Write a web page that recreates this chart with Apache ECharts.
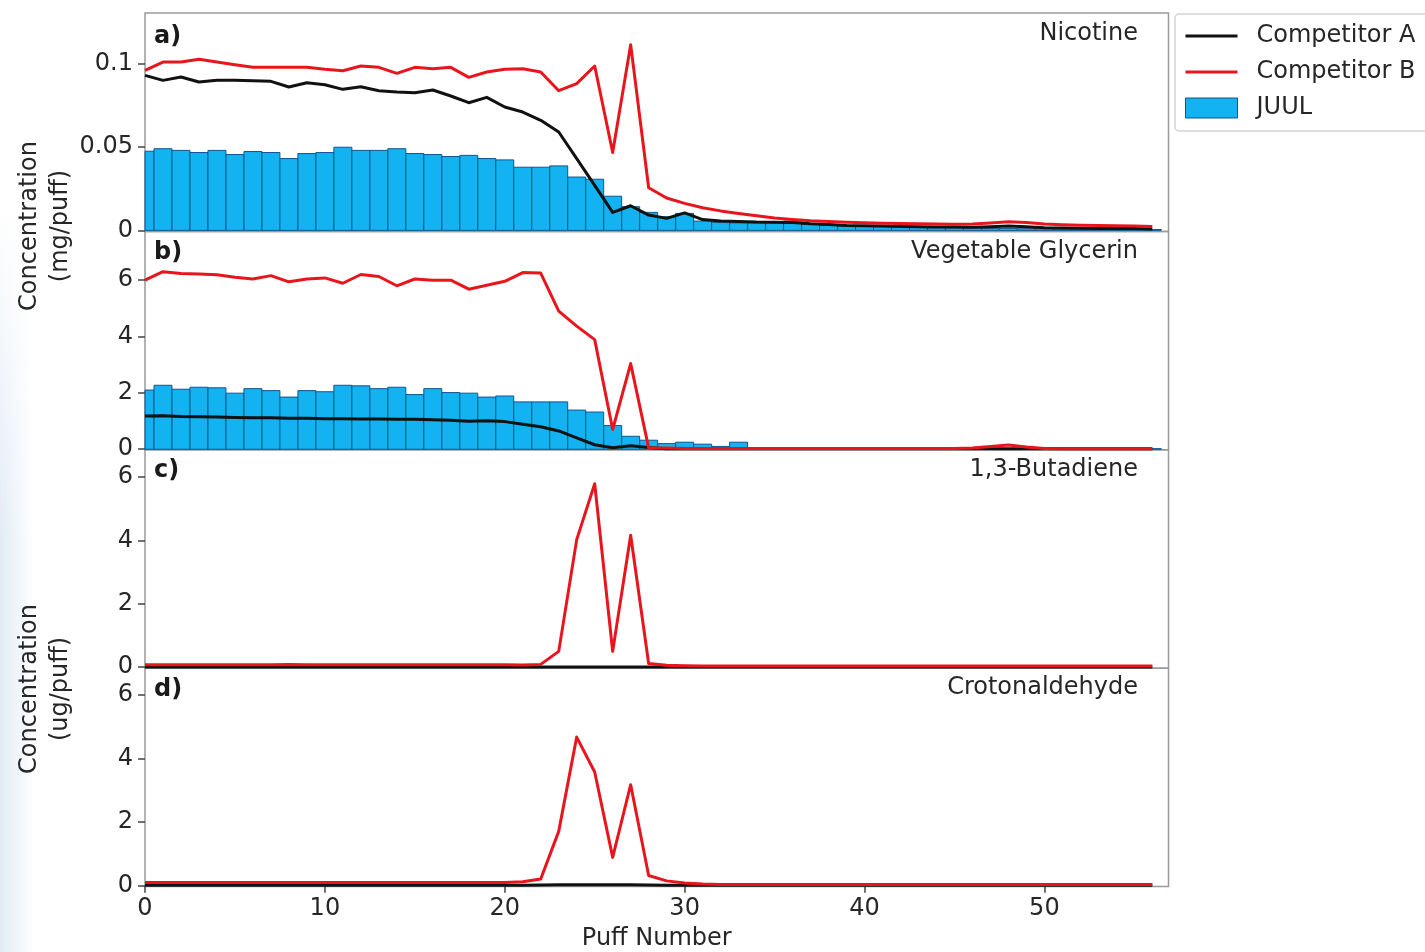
<!DOCTYPE html>
<html>
<head>
<meta charset="utf-8">
<title>Puff-by-puff concentrations</title>
<script src="https://cdn.jsdelivr.net/npm/echarts@6/dist/echarts.min.js"></script>
<style>
  html, body { margin: 0; padding: 0; background: #ffffff; }
  #wrap { position: relative; width: 1425px; height: 952px; overflow: hidden; }
  #tint { position: absolute; left: 0; top: 200px; width: 34px; height: 752px;
          background: linear-gradient(to right, rgba(222,233,245,0.9), rgba(255,255,255,0));
          -webkit-mask-image: linear-gradient(to bottom, transparent, black 45%);
          mask-image: linear-gradient(to bottom, transparent, black 45%); }
  /* canvas runs a little past the right edge so the legend frame is cut off there */
  #chart { position: absolute; left: 0; top: 0; width: 1460px; height: 952px; }
</style>
</head>
<body>
<div id="wrap">
  <div id="tint"></div>
  <div id="chart"></div>
</div>
<script>
// Puff numbers shared by every panel
const puffs = [0,1,2,3,4,5,6,7,8,9,10,11,12,13,14,15,16,17,18,19,20,21,22,23,24,25,26,27,28,
  29,30,31,32,33,34,35,36,37,38,39,40,41,42,43,44,45,46,47,48,49,50,51,52,53,54,55,56];

// a) Nicotine (mg/puff)
const nicotineA = [0.093,0.090,0.092,0.089,0.090,0.090,0.0898,0.0894,0.086,0.0886,0.0874,0.0846,0.0862,0.0838,
  0.083,0.0826,0.0842,0.0806,0.0766,0.0798,0.074,0.071,0.066,0.059,0.043,0.027,0.0108,0.0148,0.0092,0.0072,
  0.0105,0.0065,0.0056,0.0054,0.005,0.0049,0.0048,0.004,0.0035,0.003,0.0028,0.0026,0.0024,0.0022,0.002,0.002,
  0.0019,0.0022,0.0026,0.0022,0.0016,0.0014,0.0013,0.0012,0.0012,0.0011,0.0008];
const nicotineB = [0.096,0.101,0.101,0.1026,0.101,0.0994,0.0978,0.0978,0.0978,0.0978,0.0966,0.0958,0.0986,0.0978,
  0.0942,0.0978,0.097,0.0978,0.0918,0.095,0.0966,0.097,0.095,0.0838,0.088,0.0986,0.0467,0.1114,0.0256,0.0194,
  0.0162,0.0136,0.0117,0.0102,0.0088,0.0075,0.0066,0.0058,0.0053,0.0049,0.0046,0.0043,0.0041,0.004,0.0038,0.0037,
  0.0038,0.0045,0.0052,0.0048,0.0038,0.0034,0.0031,0.003,0.0028,0.0026,0.0024];
const nicotineJuul = [0.0475,0.049,0.048,0.0467,0.048,0.0455,0.0473,0.0467,0.0431,0.0461,0.0467,0.0499,0.048,0.048,
  0.049,0.0461,0.0455,0.0443,0.045,0.0431,0.0423,0.0379,0.0379,0.0387,0.032,0.0307,0.0205,0.0142,0.0108,0.0082,
  0.0102,0.0056,0.0048,0.0045,0.0044,0.0045,0.0056,0.0036,0.003,0.0026,0.0024,0.0022,0.002,0.0018,0.0016,0.0015,
  0.0014,0.0012,0.0012,0.001,0.001,0.0009,0.0008,0.0008,0.0007,0.0006,0.0005];

// b) Vegetable Glycerin (mg/puff)
const glycerinA = [1.18,1.19,1.16,1.15,1.14,1.13,1.12,1.12,1.1,1.1,1.08,1.08,1.07,1.07,1.06,1.06,1.05,1.03,0.99,1.01,
  0.98,0.89,0.8,0.65,0.4,0.16,0.05,0.12,0.06,0.02,0.02,0.02,0.02,0.02,0.02,0.02,0.02,0.02,0.02,0.02,0.02,0.02,
  0.02,0.02,0.02,0.02,0.02,0.02,0.02,0.02,0.02,0.02,0.02,0.02,0.02,0.02,0.02];
const glycerinB = [6.0,6.3,6.24,6.22,6.19,6.1,6.04,6.16,5.94,6.04,6.08,5.89,6.2,6.13,5.8,6.04,6.0,6.0,5.68,5.82,
  5.96,6.27,6.25,4.9,4.37,3.89,0.7,3.04,0.05,0.04,0.03,0.03,0.03,0.03,0.03,0.03,0.03,0.03,0.03,0.03,0.03,0.03,
  0.03,0.03,0.03,0.03,0.04,0.1,0.15,0.08,0.03,0.02,0.02,0.02,0.02,0.02,0.02];
const glycerinJuul = [2.1,2.27,2.13,2.2,2.18,1.99,2.15,2.08,1.85,2.08,2.04,2.27,2.25,2.15,2.2,1.94,2.15,2.01,1.99,1.85,
  1.89,1.68,1.68,1.68,1.39,1.32,0.84,0.46,0.32,0.2,0.25,0.18,0.1,0.25,0.06,0.05,0.04,0.03,0.03,0.03,0.02,0.02,
  0.02,0.02,0.02,0.02,0.02,0.02,0.02,0.02,0.02,0.02,0.02,0.02,0.02,0.02,0.02];

// c) 1,3-Butadiene (ug/puff)
const butadieneA = [0.01,0.01,0.01,0.01,0.01,0.01,0.01,0.01,0.01,0.01,0.01,0.01,0.01,0.01,0.01,0.01,0.01,0.01,0.01,0.01,
  0.01,0.01,0.01,0.01,0.01,0.01,0.01,0.01,0.01,0.01,0.01,0.01,0.01,0.01,0.01,0.01,0.01,0.01,0.01,0.01,0.01,0.01,
  0.01,0.01,0.01,0.01,0.01,0.01,0.01,0.01,0.01,0.01,0.01,0.01,0.01,0.01,0.01];
const butadieneB = [0.08,0.08,0.08,0.08,0.08,0.08,0.08,0.08,0.09,0.08,0.08,0.08,0.08,0.08,0.08,0.08,0.08,0.08,0.08,0.08,
  0.08,0.07,0.09,0.5,4.02,5.78,0.5,4.16,0.12,0.06,0.05,0.04,0.04,0.04,0.04,0.04,0.04,0.04,0.04,0.04,0.04,0.04,
  0.04,0.04,0.04,0.04,0.04,0.04,0.04,0.04,0.04,0.04,0.04,0.04,0.04,0.04,0.04];

// d) Crotonaldehyde (ug/puff)
const crotonA = [0.01,0.01,0.01,0.01,0.01,0.01,0.01,0.01,0.01,0.01,0.01,0.01,0.01,0.01,0.01,0.01,0.01,0.01,0.01,0.01,
  0.01,0.01,0.02,0.03,0.03,0.03,0.03,0.03,0.02,0.01,0.01,0.01,0.01,0.01,0.01,0.01,0.01,0.01,0.01,0.01,0.01,0.01,
  0.01,0.01,0.01,0.01,0.01,0.01,0.01,0.01,0.01,0.01,0.01,0.01,0.01,0.01,0.01];
const crotonB = [0.1,0.1,0.1,0.1,0.1,0.1,0.1,0.1,0.1,0.1,0.1,0.1,0.1,0.1,0.1,0.1,0.1,0.1,0.1,0.1,
  0.1,0.12,0.21,1.71,4.68,3.58,0.89,3.18,0.32,0.15,0.08,0.05,0.04,0.04,0.04,0.04,0.04,0.04,0.04,0.04,0.04,0.04,
  0.04,0.04,0.04,0.04,0.04,0.04,0.04,0.04,0.04,0.04,0.04,0.04,0.04,0.04,0.04];

// Axis tick values and labels
const xTicks = [0, 10, 20, 30, 40, 50];
const nicotineTicks = [0, 0.05, 0.1];
const nicotineTickLabels = ['0', '0.05', '0.1'];
const ugTicks = [0, 2, 4, 6];

const panelTitles = ['Nicotine', 'Vegetable Glycerin', '1,3-Butadiene', 'Crotonaldehyde'];
const panelTags = ['a)', 'b)', 'c)', 'd)'];
const seriesNames = ['Competitor A', 'Competitor B', 'JUUL'];

const FONT = 'DejaVu Sans';
const TEXT = '#262626';
const RED = '#e8161c';
const BLACK = '#111111';
const BLUE = '#12b3f0';
const BLUE_EDGE = '#11558f';
// thin horizontal bar used as the legend swatch for the line series
const LINE_ICON = 'path://M0,0h52v3h-52z';

const chart = echarts.init(document.getElementById('chart'), null, { renderer: 'canvas' });

// panel layout (canvas is 1460 wide; plot area ends at x = 1168.5)
const CANVAS_W = 1460;
const LEFT = 145, RIGHT = CANVAS_W - 1168.5, TOP = 13, PANEL_H = 218.4;
const TITLE_RIGHT = CANVAS_W - 1138;
const grids = [0, 1, 2, 3].map(i => ({
  left: LEFT, right: RIGHT, top: TOP + i * PANEL_H, height: PANEL_H,
  show: true, borderColor: '#9a9a9a', borderWidth: 1.5, backgroundColor: 'transparent'
}));

const xAxes = [0, 1, 2, 3].map(i => ({
  type: 'value', gridIndex: i, min: 0, max: 56.9,
  axisLine: { show: false },
  splitLine: { show: false },
  axisTick: { show: i === 3, customValues: xTicks, length: 7, inside: false, lineStyle: { color: '#444', width: 1.5 } },
  minorTick: { show: false },
  axisLabel: { show: i === 3, customValues: xTicks, margin: 10, fontFamily: FONT, fontSize: 24, color: TEXT },
  name: i === 3 ? 'Puff Number' : '',
  nameLocation: 'middle', nameGap: 40,
  nameTextStyle: { fontFamily: FONT, fontSize: 24, color: TEXT }
}));

function yAxis(i, min, max, ticks, labels) {
  return {
    type: 'value', gridIndex: i, min: min, max: max,
    axisLine: { show: false },
    splitLine: { show: false },
    axisTick: { show: true, customValues: ticks, length: 7, lineStyle: { color: '#444', width: 1.5 } },
    axisLabel: {
      show: true, customValues: ticks, margin: 12, fontFamily: FONT, fontSize: 24, color: TEXT,
      formatter: labels ? (v) => labels[ticks.indexOf(v)] ?? String(v) : (v) => String(v)
    }
  };
}

const yAxes = [
  yAxis(0, -0.0006, 0.1304, nicotineTicks, nicotineTickLabels),
  yAxis(1, -0.02, 7.73, ugTicks),
  yAxis(2, -0.03, 6.85, ugTicks),
  yAxis(3, -0.03, 6.85, ugTicks)
];

function pairs(ys) { return puffs.map((x, k) => [x, ys[k]]); }

// Unit-wide bars centred on each puff, drawn through the axis scales
function barSeries(i, ys) {
  return {
    name: 'JUUL', type: 'custom', xAxisIndex: i, yAxisIndex: i, z: 1,
    color: BLUE,
    itemStyle: { color: BLUE, borderColor: BLUE_EDGE, borderWidth: 1 },
    data: pairs(ys),
    renderItem: function (params, api) {
      const x = api.value(0), y = api.value(1);
      const p0 = api.coord([x - 0.5, 0]);
      const p1 = api.coord([x + 0.5, y]);
      const rect = echarts.graphic.clipRectByRect(
        { x: p0[0], y: p1[1], width: p1[0] - p0[0], height: p0[1] - p1[1] },
        { x: params.coordSys.x, y: params.coordSys.y, width: params.coordSys.width, height: params.coordSys.height }
      );
      if (!rect) return null;
      return { type: 'rect', shape: rect,
               style: { fill: BLUE, stroke: BLUE_EDGE, lineWidth: 1 } };
    }
  };
}

function lineSeries(i, name, ys, color, z) {
  return {
    name: name, type: 'line', xAxisIndex: i, yAxisIndex: i, z: z,
    data: pairs(ys), symbol: 'none', clip: true, animation: false,
    color: color,
    lineStyle: { color: color, width: 3, join: 'round' }
  };
}

const series = [
  barSeries(0, nicotineJuul),
  lineSeries(0, 'Competitor A', nicotineA, BLACK, 2),
  lineSeries(0, 'Competitor B', nicotineB, RED, 3),
  barSeries(1, glycerinJuul),
  lineSeries(1, 'Competitor A', glycerinA, BLACK, 2),
  lineSeries(1, 'Competitor B', glycerinB, RED, 3),
  lineSeries(2, 'Competitor A', butadieneA, BLACK, 2),
  lineSeries(2, 'Competitor B', butadieneB, RED, 3),
  lineSeries(3, 'Competitor A', crotonA, BLACK, 2),
  lineSeries(3, 'Competitor B', crotonB, RED, 3)
];

const titleTops = [20, 238, 456, 674];
const tagTops = [23, 239, 457, 676];
const titles = [];
panelTitles.forEach((t, i) => {
  titles.push({ text: t, right: TITLE_RIGHT, top: titleTops[i], padding: 0,
    textStyle: { fontFamily: FONT, fontSize: 24, fontWeight: 'normal', color: TEXT, lineHeight: 28 } });
  titles.push({ text: panelTags[i], left: 154, top: tagTops[i], padding: 0,
    textStyle: { fontFamily: FONT, fontSize: 24, fontWeight: 'bold', color: '#1a1a1a', lineHeight: 28 } });
});

chart.setOption({
  animation: false,
  textStyle: { fontFamily: FONT },
  title: titles,
  grid: grids,
  xAxis: xAxes,
  yAxis: yAxes,
  legend: {
    orient: 'vertical', left: 1175, top: 14,
    padding: [10, 30, 11, 10],
    itemWidth: 52, itemHeight: 20, itemGap: 12,
    borderColor: '#d4d4d4', borderWidth: 1.5, borderRadius: 4, backgroundColor: '#ffffff',
    selectedMode: false,
    textStyle: { fontFamily: FONT, fontSize: 24, color: TEXT, lineHeight: 20, padding: [0, 0, 0, 14] },
    data: [
      { name: seriesNames[0], icon: LINE_ICON, itemStyle: { color: BLACK, borderWidth: 0 } },
      { name: seriesNames[1], icon: LINE_ICON, itemStyle: { color: RED, borderWidth: 0 } },
      { name: seriesNames[2], icon: 'rect', itemStyle: { color: BLUE, borderColor: BLUE_EDGE, borderWidth: 1 } }
    ]
  },
  graphic: [
    { type: 'text', x: 45, y: 226, rotation: Math.PI / 2,
      style: { text: 'Concentration\n(mg/puff)', fill: TEXT, font: '24px "DejaVu Sans"',
               align: 'center', verticalAlign: 'middle', lineHeight: 31 } },
    { type: 'text', x: 45, y: 689, rotation: Math.PI / 2,
      style: { text: 'Concentration\n(ug/puff)', fill: TEXT, font: '24px "DejaVu Sans"',
               align: 'center', verticalAlign: 'middle', lineHeight: 31 } }
  ],
  series: series
});
</script>
</body>
</html>
